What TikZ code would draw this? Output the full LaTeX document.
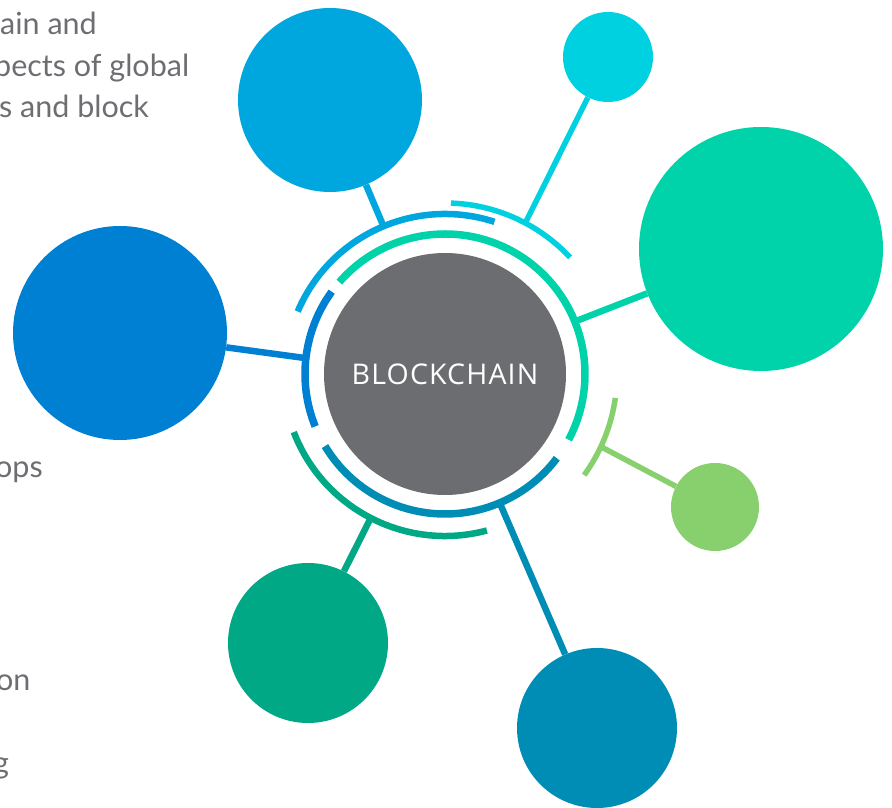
\documentclass[tikz,border=0pt]{standalone}
\usepackage{fontspec}
\setmainfont{Lato}
\newfontfamily\hubfont{Open Sans}[LetterSpace=4.0]
\usetikzlibrary{positioning}

\definecolor{hubgray}{HTML}{6C6D70}
\definecolor{txtgray}{HTML}{6D6E71}
\definecolor{skyblue}{HTML}{00A6DE}
\definecolor{cyanish}{HTML}{00D1E0}
\definecolor{mint}{HTML}{00D3A9}
\definecolor{royal}{HTML}{0080D3}
\definecolor{lime}{HTML}{88D06E}
\definecolor{jade}{HTML}{00A886}
\definecolor{petrol}{HTML}{008DB5}

\tikzset{
  bubble/.style={circle,fill=#1,inner sep=0pt},
  ring/.style={draw=#1,line width=7.5pt},
  link/.style={draw=#1,line width=6.5pt},
  side/.style={anchor=base west,inner sep=0pt,text=txtgray,font=\fontsize{30.5}{36}\selectfont}
}

\begin{document}
\begin{tikzpicture}[x=1pt,y=1pt]
  \useasboundingbox (0,0) rectangle (892,807);
  \clip (0,0) rectangle (892,807);

  % text cut off at the left edge
  \node[side] (t1) at (0,772)  {ain and};
  \node[side] (t2) at (-6,730) {pects of global};
  \node[side] (t3) at (-1,689) {s and block};
  \node[side] (t4) at (-5,329) {ops};
  \node[side] (t5) at (-4,117) {on};
  \node[side] (t6) at (-7,34)  {g};

  % centre
  \node[bubble=hubgray, minimum size=242pt, text=white,
        font=\hubfont\fontsize{28.5}{30}\selectfont] (hub) at (445,433) {BLOCKCHAIN};

  % outer circles
  \node[bubble=skyblue, minimum size=184pt] (bluetop)   at (330,707) {};
  \node[bubble=cyanish, minimum size=90pt]  (cyantop)   at (608,750) {};
  \node[bubble=mint,    minimum size=244pt] (greenbig)  at (761,558) {};
  \node[bubble=royal,   minimum size=214pt] (blueleft)  at (120,474) {};
  \node[bubble=lime,    minimum size=88pt]  (limesmall) at (715,300) {};
  \node[bubble=jade,    minimum size=160pt] (darkgreen) at (308,164) {};
  \node[bubble=petrol,  minimum size=160pt] (tealbottom) at (597,79) {};

  % arcs round the centre
  \draw[ring=mint]   ([shift={(139:140)}]hub.center) arc[start angle=139, end angle=-28, radius=140];
  \draw[ring=skyblue,line width=6.5pt] ([shift={(157:160)}]hub.center) arc[start angle=157, end angle=72, radius=160];
  \draw[ring=cyanish,line width=5.5pt] ([shift={(88:171)}]hub.center) arc[start angle=88, end angle=43, radius=171];
  \draw[ring=royal]  ([shift={(144:140)}]hub.center) arc[start angle=144, end angle=202, radius=140];
  \draw[ring=jade,line width=6.5pt] ([shift={(201:162)}]hub.center) arc[start angle=201, end angle=285, radius=162];
  \draw[ring=petrol] ([shift={(211:140)}]hub.center) arc[start angle=211, end angle=323, radius=140];
  \draw[ring=lime,line width=5.5pt] ([shift={(-8:172)}]hub.center) arc[start angle=-8, end angle=-36, radius=172];

  % ports on the arcs
  \coordinate (pbluetop)   at ([shift={(112.6:160)}]hub.center);
  \coordinate (pcyantop)   at ([shift={(62:171)}]hub.center);
  \coordinate (pgreenbig)  at ([shift={(22:140)}]hub.center);
  \coordinate (pblueleft)  at ([shift={(173.5:140)}]hub.center);
  \coordinate (plime)      at ([shift={(-25:172)}]hub.center);
  \coordinate (pdarkgreen) at ([shift={(242.7:162)}]hub.center);
  \coordinate (ptealbottom) at ([shift={(293:140)}]hub.center);

  % links
  \draw[link=skyblue] (pbluetop) -- (bluetop);
  \draw[link=cyanish,line width=5.5pt] (pcyantop) -- (cyantop);
  \draw[link=mint]    (pgreenbig) -- (greenbig);
  \draw[link=royal]   (pblueleft) -- (blueleft);
  \draw[link=lime,line width=5.5pt] (plime) -- (limesmall);
  \draw[link=jade]    (pdarkgreen) -- (darkgreen);
  \draw[link=petrol]  (ptealbottom) -- (tealbottom);
\end{tikzpicture}
\end{document}
